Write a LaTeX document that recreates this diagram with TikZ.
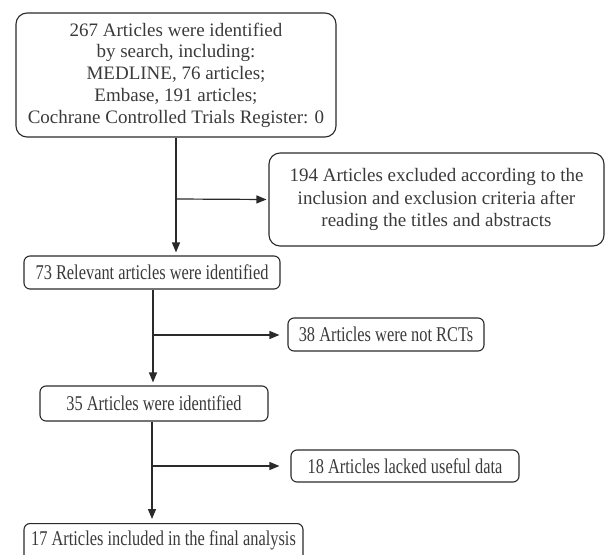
\documentclass[tikz,border=0pt]{standalone}
\usepackage{fontspec}
\setmainfont{Liberation Serif}
\newfontfamily\narrowfont[FakeStretch=0.78]{Liberation Serif}
\usetikzlibrary{arrows.meta,calc}
\definecolor{txt}{HTML}{3A3A3A}
\definecolor{ln}{HTML}{2A2A2A}
\tikzset{
  box/.style={draw=ln, line width=1.1pt, text=txt, inner sep=0pt, align=center,
    font=\narrowfont\fontsize{21}{24}\selectfont, rounded corners=6pt},
  bigbox/.style={box, rounded corners=11pt, font=\fontsize{19}{21.8}\selectfont},
  arr/.style={draw=ln, line width=1.2pt, -{Triangle[length=10pt,width=8pt]}}
}
\begin{document}
\begin{tikzpicture}[x=1pt,y=1pt]
\useasboundingbox (0,0) rectangle (606,-555);
\node[bigbox, minimum width=320pt, minimum height=124pt] (b1) at (176,-75)
  {267 Articles were identified\\by search, including:\\MEDLINE, 76 articles;\\Embase, 191 articles;\\Cochrane Controlled Trials Register: 0};
\node[bigbox, minimum width=335pt, minimum height=93pt, font=\fontsize{19}{22.5}\selectfont] (b2) at (436.5,-199.5)
  {194 Articles excluded according to the\\inclusion and exclusion criteria after\\reading the titles and abstracts};
\node[box, minimum width=256pt, minimum height=33pt] (b3) at (152,-272.5)
  {73 Relevant articles were identified};
\node[box, minimum width=196pt, minimum height=33pt] (b4) at (386,-334.5)
  {38 Articles were not RCTs};
\node[box, minimum width=228pt, minimum height=35pt] (b5) at (154,-403.5)
  {35 Articles were identified};
\node[box, minimum width=228pt, minimum height=32pt] (b6) at (405,-466)
  {18 Articles lacked useful data};
\node[box, minimum width=279pt, minimum height=38pt, anchor=north, text depth=8pt] (b7) at (163.5,-523)
  {17 Articles included in the final analysis};
\coordinate (j1) at (176,-199);
\coordinate (j2) at (153,-335);
\coordinate (j3) at (152,-466);
\draw[arr, shorten >=3pt] (b1.south -| j1) -- (b3.north -| j1);
\draw[arr, shorten >=2pt] (j1) -- (b2.west);
\draw[arr, shorten >=3pt] (b3.south -| j2) -- (b5.north -| j2);
\draw[arr, shorten >=8pt] (j2) -- (b4.west |- j2);
\draw[arr, shorten >=4pt] (b5.south -| j3) -- (b7.north -| j3);
\draw[arr, shorten >=11pt] (j3) -- (b6.west |- j3);
\end{tikzpicture}
\end{document}
